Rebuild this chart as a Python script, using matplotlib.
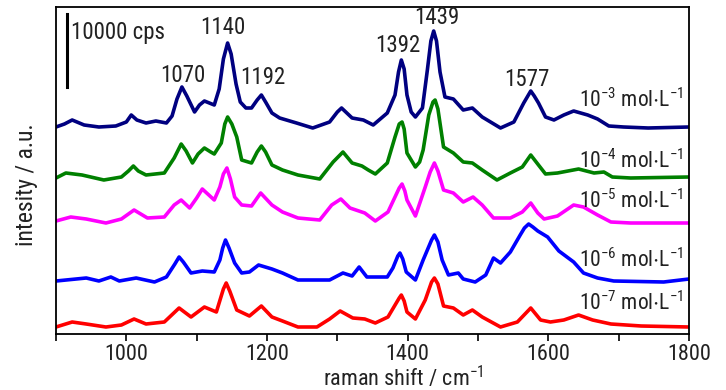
import matplotlib
matplotlib.use("Agg")
import matplotlib.pyplot as plt
from matplotlib import font_manager

# ---------------- data ----------------
w_1e3 = [900, 912, 923, 940, 961, 985, 1000, 1007, 1015, 1028, 1042, 1057, 1065, 1072, 1079, 1086, 1097, 1104, 1111,
         1125, 1132, 1138, 1144, 1149, 1156, 1162, 1170, 1178, 1186, 1192, 1198, 1207, 1218, 1242, 1265, 1289, 1300,
         1306, 1312, 1321, 1337, 1351, 1371, 1382, 1387, 1391, 1395, 1399, 1405, 1411, 1421, 1428, 1433, 1437, 1441,
         1446, 1453, 1465, 1479, 1492, 1506, 1532, 1551, 1565, 1575, 1580, 1586, 1596, 1608, 1622, 1636, 1656, 1670,
         1686, 1707, 1742, 1800]
i_1e3 = [207, 210, 214, 209, 207, 208, 212, 219, 214, 211, 213, 211, 218, 235, 247, 238, 222, 229, 233,
         229, 245, 275, 291, 280, 250, 232, 226, 226, 234, 239, 232, 221, 216, 211, 206, 212, 222,
         226, 222, 216, 214, 209, 221, 239, 262, 274, 265, 239, 222, 217, 226, 264, 293, 303, 293,
         262, 237, 235, 224, 226, 217, 206, 212, 231, 243, 238, 231, 217, 214, 219, 223, 219, 215,
         208, 207, 206, 207]

w_1e4 = [900, 914, 937, 968, 993, 1003, 1010, 1017, 1028, 1054, 1068, 1078, 1085, 1094, 1102, 1111, 1120, 1125, 1135,
         1140, 1144, 1150, 1157, 1164, 1178, 1186, 1192, 1198, 1207, 1222, 1244, 1275, 1294, 1308, 1321, 1335, 1344,
         1354, 1371, 1382, 1388, 1392, 1395, 1399, 1411, 1417, 1422, 1430, 1436, 1439, 1443, 1451, 1465, 1479, 1492,
         1506, 1527, 1546, 1563, 1575, 1586, 1596, 1613, 1643, 1665, 1679, 1691, 1717, 1800]
i_1e4 = [156, 161, 159, 154, 157, 163, 168, 163, 159, 161, 176, 190, 183, 171, 180, 186, 182, 180, 191,
         210, 217, 210, 197, 174, 171, 182, 188, 182, 169, 164, 159, 155, 172, 182, 171, 168, 164,
         160, 171, 197, 210, 212, 205, 181, 167, 172, 184, 219, 232, 234, 225, 187, 181, 172, 171,
         164, 154, 161, 167, 179, 169, 160, 161, 165, 161, 162, 157, 156, 157]

w_1e5 = [900, 921, 943, 971, 993, 1011, 1030, 1054, 1068, 1078, 1090, 1100, 1108, 1125, 1133, 1138, 1143, 1148, 1154,
         1164, 1178, 1191, 1207, 1222, 1244, 1275, 1292, 1305, 1318, 1339, 1354, 1372, 1382, 1388, 1392, 1396, 1399,
         1411, 1425, 1432, 1438, 1443, 1451, 1465, 1479, 1493, 1506, 1522, 1546, 1563, 1575, 1585, 1594, 1613, 1636,
         1650, 1670, 1689, 1717, 1800]
i_1e5 = [113, 117, 115, 111, 115, 124, 116, 117, 129, 134, 126, 136, 145, 134, 147, 160, 166, 155, 137,
         129, 128, 141, 129, 122, 116, 114, 129, 135, 126, 121, 113, 122, 137, 146, 150, 143, 134,
         118, 147, 162, 171, 163, 144, 141, 132, 137, 129, 116, 116, 122, 131, 121, 115, 118, 129,
         127, 119, 112, 111, 111]

w_1e6 = [900, 943, 961, 978, 990, 1014, 1040, 1057, 1069, 1075, 1081, 1092, 1108, 1125, 1133, 1137, 1141, 1146, 1154,
         1164, 1175, 1188, 1207, 1222, 1244, 1265, 1289, 1308, 1321, 1331, 1342, 1371, 1379, 1386, 1389, 1393, 1398,
         1411, 1422, 1434, 1438, 1443, 1449, 1458, 1472, 1479, 1496, 1511, 1522, 1532, 1546, 1560, 1566, 1572, 1578,
         1585, 1599, 1615, 1636, 1650, 1670, 1693, 1764, 1800]
i_1e6 = [53, 56, 53, 57, 53, 56, 52, 57, 70, 77, 72, 61, 63, 62, 74, 86, 94, 86, 71,
         61, 62, 69, 65, 61, 54, 54, 54, 61, 58, 67, 57, 57, 66, 78, 81, 75, 62,
         54, 74, 94, 99, 92, 74, 59, 61, 55, 52, 59, 76, 71, 82, 99, 106, 110, 107,
         103, 97, 83, 72, 61, 56, 53, 52, 55]

w_1e7 = [900, 923, 943, 971, 993, 1011, 1028, 1054, 1075, 1092, 1111, 1128, 1138, 1142, 1147, 1157, 1175, 1192, 1207,
         1222, 1244, 1271, 1289, 1304, 1322, 1339, 1354, 1372, 1388, 1391, 1395, 1399, 1411, 1425, 1434, 1438, 1443,
         1451, 1465, 1479, 1492, 1506, 1532, 1556, 1575, 1589, 1603, 1622, 1643, 1663, 1689, 1732, 1800]
i_1e7 = [7, 12, 10, 7, 9, 15, 10, 12, 26, 17, 27, 22, 45, 51, 43, 24, 18, 28, 17,
         13, 7, 7, 15, 23, 16, 15, 11, 17, 36, 39, 33, 22, 15, 34, 52, 56, 50,
         28, 26, 19, 24, 17, 7, 12, 26, 14, 12, 14, 19, 14, 10, 8, 7]

series_labels = [r"10$^{-3}$ mol$\cdot$L$^{-1}$", r"10$^{-4}$ mol$\cdot$L$^{-1}$", r"10$^{-5}$ mol$\cdot$L$^{-1}$",
                 r"10$^{-6}$ mol$\cdot$L$^{-1}$", r"10$^{-7}$ mol$\cdot$L$^{-1}$"]
series_colors = ["#000080", "#008000", "#FF00FF", "#0000FF", "#FF0000"]
label_heights = [227, 166, 126, 67, 24]

peak_texts = ["1070", "1140", "1192", "1392", "1439", "1577"]
peak_x = [1081, 1137, 1194, 1386, 1441, 1570]
peak_y = [259, 306, 256, 289, 316, 254]

scale_bar_units = 73       # height of a 10000 cps bar in plot units
scale_bar_label = "10000 cps"

xticks_major = [1000, 1200, 1400, 1600, 1800]

# ---------------- font ----------------
available = {f.name for f in font_manager.fontManager.ttflist}
main_font = "DejaVu Sans"
for cand in ["Liberation Sans Narrow", "Arial Narrow", "Roboto Condensed", "Liberation Sans", "Arial"]:
    if cand in available:
        main_font = cand
        break
plt.rcParams["font.family"] = [main_font, "DejaVu Sans"]
plt.rcParams["mathtext.fontset"] = "custom"
plt.rcParams["mathtext.rm"] = main_font
plt.rcParams["mathtext.it"] = main_font
plt.rcParams["mathtext.default"] = "regular"

TXT = "#222222"

fig = plt.figure(figsize=(7.26, 3.90), dpi=100)
ax = fig.add_axes([56 / 726, 1 - 334 / 390, (689 - 56) / 726, (334 - 7) / 390])

xs = [w_1e3, w_1e4, w_1e5, w_1e6, w_1e7]
ys = [i_1e3, i_1e4, i_1e5, i_1e6, i_1e7]
for xv, yv, c in zip(xs, ys, series_colors):
    ax.plot(xv, yv, color=c, lw=2.6, solid_joinstyle="round", solid_capstyle="round")

for lab, h in zip(series_labels, label_heights):
    ax.text(1792, h, lab, ha="right", va="baseline", fontsize=15.5, color=TXT)

for t, x, y in zip(peak_texts, peak_x, peak_y):
    ax.text(x, y, t, ha="center", va="center", fontsize=16.5, color=TXT)

# scale bar
bar_x = 916
bar_y0 = 247
ax.plot([bar_x, bar_x], [bar_y0, bar_y0 + scale_bar_units], color="black", lw=2.2)
ax.text(922, 302, scale_bar_label, ha="left", va="center", fontsize=16.5, color=TXT)

ax.set_xlim(900, 1800)
ax.set_ylim(0, 327)
ax.set_xticks(xticks_major)
ax.set_xticks(range(900, 1801, 100), minor=True)
ax.tick_params(axis="x", which="both", direction="out", length=5, width=1.2, labelsize=16, pad=2,
               labelcolor=TXT, top=False)
ax.set_yticks([])
for s in ax.spines.values():
    s.set_linewidth(1.3)

fig.text(403 / 726, 1 - 378 / 390, r"raman shift / cm$^{-1}$", ha="center", va="center",
         fontsize=16, color=TXT)
fig.text(27 / 726, 1 - 185 / 390, "intesity / a.u.", rotation=90, ha="center", va="center",
         fontsize=17, color=TXT)

fig.savefig("out.png", dpi=100)
